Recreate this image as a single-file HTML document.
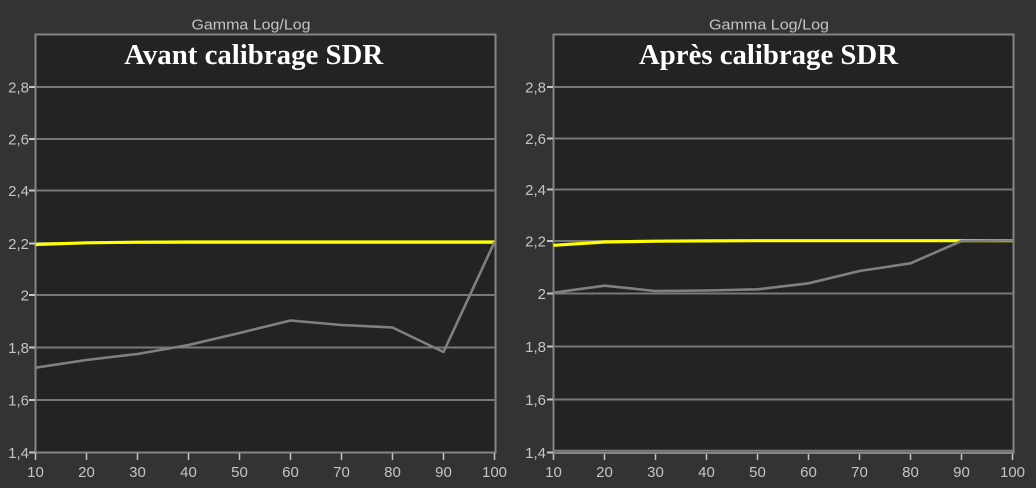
<!DOCTYPE html>
<html><head><meta charset="utf-8"><style>
html,body{margin:0;padding:0;background:#333333;}
svg{display:block;}
</style></head><body>
<svg width="1036" height="488" viewBox="0 0 1036 488" xmlns="http://www.w3.org/2000/svg">
<rect x="0" y="0" width="1036" height="488" fill="#333333"/>
<g font-family="Liberation Sans, DejaVu Sans, sans-serif" fill="#c4c4c4">
<text x="251" y="29.5" font-size="15" text-anchor="middle" textLength="119" lengthAdjust="spacingAndGlyphs">Gamma Log/Log</text>
<text x="769" y="29.5" font-size="15" text-anchor="middle" textLength="120" lengthAdjust="spacingAndGlyphs">Gamma Log/Log</text>
</g>

<!-- LEFT CHART -->
<rect x="35.5" y="34.5" width="460" height="418" fill="#232323" stroke="#858585" stroke-width="2"/>
<g stroke="#787878" stroke-width="2">
<line x1="35.5" y1="87" x2="495.5" y2="87"/>
<line x1="35.5" y1="139" x2="495.5" y2="139"/>
<line x1="35.5" y1="190.5" x2="495.5" y2="190.5"/>
<line x1="35.5" y1="243" x2="495.5" y2="243"/>
<line x1="35.5" y1="295" x2="495.5" y2="295"/>
<line x1="35.5" y1="347.5" x2="495.5" y2="347.5"/>
<line x1="35.5" y1="400" x2="495.5" y2="400"/>
</g>
<g stroke="#c4c4c4" stroke-width="2">
<line x1="29" y1="87" x2="35" y2="87"/>
<line x1="29" y1="139" x2="35" y2="139"/>
<line x1="29" y1="190.5" x2="35" y2="190.5"/>
<line x1="29" y1="243.5" x2="35" y2="243.5"/>
<line x1="29" y1="295" x2="35" y2="295"/>
<line x1="29" y1="347.5" x2="35" y2="347.5"/>
<line x1="29" y1="400" x2="35" y2="400"/>
<line x1="29" y1="452.5" x2="35" y2="452.5"/>
</g>
<g stroke="#c4c4c4" stroke-width="1.5">
<line x1="35.5" y1="453" x2="35.5" y2="460"/>
<line x1="86.5" y1="453" x2="86.5" y2="460"/>
<line x1="137.5" y1="453" x2="137.5" y2="460"/>
<line x1="188.5" y1="453" x2="188.5" y2="460"/>
<line x1="239.5" y1="453" x2="239.5" y2="460"/>
<line x1="290.5" y1="453" x2="290.5" y2="460"/>
<line x1="341.5" y1="453" x2="341.5" y2="460"/>
<line x1="392.5" y1="453" x2="392.5" y2="460"/>
<line x1="443.5" y1="453" x2="443.5" y2="460"/>
<line x1="494.5" y1="453" x2="494.5" y2="460"/>
</g>
<polyline fill="none" stroke="#ffff00" stroke-width="3.2" points="35.5,244.5 86.5,242.8 137.5,242.2 188.5,242 239.5,242 290.5,242 341.5,242 392.5,242 443.5,242 494.5,242"/>
<polyline fill="none" stroke="#808080" stroke-width="2.6" stroke-linejoin="round" points="35.5,367.7 86.5,360 137.5,354 188.5,345 239.5,333 290.5,320.5 341.5,325 392.5,327.5 443.5,352 494.5,242"/>
<g font-family="Liberation Sans, DejaVu Sans, sans-serif" font-size="15" fill="#c4c4c4" text-anchor="end">
<text x="29" y="92.5">2,8</text>
<text x="29" y="144.5">2,6</text>
<text x="29" y="196">2,4</text>
<text x="29" y="249">2,2</text>
<text x="29" y="300.5">2</text>
<text x="29" y="353">1,8</text>
<text x="29" y="405.5">1,6</text>
<text x="29" y="458">1,4</text>
</g>
<g font-family="Liberation Sans, DejaVu Sans, sans-serif" font-size="15" fill="#c4c4c4" text-anchor="middle">
<text x="35.5" y="477">10</text>
<text x="86.5" y="477">20</text>
<text x="137.5" y="477">30</text>
<text x="188.5" y="477">40</text>
<text x="239.5" y="477">50</text>
<text x="290.5" y="477">60</text>
<text x="341.5" y="477">70</text>
<text x="392.5" y="477">80</text>
<text x="443.5" y="477">90</text>
<text x="494.5" y="477">100</text>
</g>
<text x="253.7" y="64" font-family="Liberation Serif, DejaVu Serif, serif" font-weight="bold" font-size="29" fill="#ffffff" text-anchor="middle" textLength="259" lengthAdjust="spacingAndGlyphs">Avant calibrage SDR</text>

<!-- RIGHT CHART -->
<rect x="553.5" y="34.5" width="460" height="418.5" fill="#232323" stroke="#858585" stroke-width="2"/>
<g stroke="#787878" stroke-width="2">
<line x1="553.5" y1="87" x2="1013.5" y2="87"/>
<line x1="553.5" y1="138.5" x2="1013.5" y2="138.5"/>
<line x1="553.5" y1="189.5" x2="1013.5" y2="189.5"/>
<line x1="553.5" y1="241" x2="1013.5" y2="241"/>
<line x1="553.5" y1="293.5" x2="1013.5" y2="293.5"/>
<line x1="553.5" y1="346.5" x2="1013.5" y2="346.5"/>
<line x1="553.5" y1="399.5" x2="1013.5" y2="399.5"/>
</g>
<g stroke="#c4c4c4" stroke-width="2">
<line x1="547" y1="87" x2="553" y2="87"/>
<line x1="547" y1="138.5" x2="553" y2="138.5"/>
<line x1="547" y1="189.5" x2="553" y2="189.5"/>
<line x1="547" y1="241" x2="553" y2="241"/>
<line x1="547" y1="293.5" x2="553" y2="293.5"/>
<line x1="547" y1="346.5" x2="553" y2="346.5"/>
<line x1="547" y1="399.5" x2="553" y2="399.5"/>
<line x1="547" y1="452.5" x2="553" y2="452.5"/>
</g>
<g stroke="#c4c4c4" stroke-width="1.5">
<line x1="553.5" y1="454" x2="553.5" y2="460"/>
<line x1="604.5" y1="454" x2="604.5" y2="460"/>
<line x1="655.5" y1="454" x2="655.5" y2="460"/>
<line x1="706.5" y1="454" x2="706.5" y2="460"/>
<line x1="757.5" y1="454" x2="757.5" y2="460"/>
<line x1="808.5" y1="454" x2="808.5" y2="460"/>
<line x1="859.5" y1="454" x2="859.5" y2="460"/>
<line x1="910.5" y1="454" x2="910.5" y2="460"/>
<line x1="961.5" y1="454" x2="961.5" y2="460"/>
<line x1="1012.5" y1="454" x2="1012.5" y2="460"/>
</g>
<line x1="553.5" y1="450.8" x2="1013.5" y2="450.8" stroke="#808080" stroke-width="2"/>
<polyline fill="none" stroke="#ffff00" stroke-width="3.2" points="553.5,245.3 604.5,242 655.5,241.2 706.5,240.9 757.5,240.7 808.5,240.7 859.5,240.7 910.5,240.7 961.5,240.7 1012.5,240.7"/>
<polyline fill="none" stroke="#808080" stroke-width="2.6" stroke-linejoin="round" points="553.5,292.7 604.5,285.7 655.5,291 706.5,290.5 757.5,289.3 808.5,283.3 859.5,271 910.5,263.3 961.5,241 1012.5,240.5"/>
<g font-family="Liberation Sans, DejaVu Sans, sans-serif" font-size="15" fill="#c4c4c4" text-anchor="end">
<text x="546" y="92.5">2,8</text>
<text x="546" y="144">2,6</text>
<text x="546" y="195">2,4</text>
<text x="546" y="246.5">2,2</text>
<text x="546" y="299">2</text>
<text x="546" y="352">1,8</text>
<text x="546" y="405">1,6</text>
<text x="546" y="458">1,4</text>
</g>
<g font-family="Liberation Sans, DejaVu Sans, sans-serif" font-size="15" fill="#c4c4c4" text-anchor="middle">
<text x="553.5" y="477">10</text>
<text x="604.5" y="477">20</text>
<text x="655.5" y="477">30</text>
<text x="706.5" y="477">40</text>
<text x="757.5" y="477">50</text>
<text x="808.5" y="477">60</text>
<text x="859.5" y="477">70</text>
<text x="910.5" y="477">80</text>
<text x="961.5" y="477">90</text>
<text x="1012.5" y="477">100</text>
</g>
<text x="768.5" y="64" font-family="Liberation Serif, DejaVu Serif, serif" font-weight="bold" font-size="29" fill="#ffffff" text-anchor="middle" textLength="259" lengthAdjust="spacingAndGlyphs">Après calibrage SDR</text>
</svg>
</body></html>
